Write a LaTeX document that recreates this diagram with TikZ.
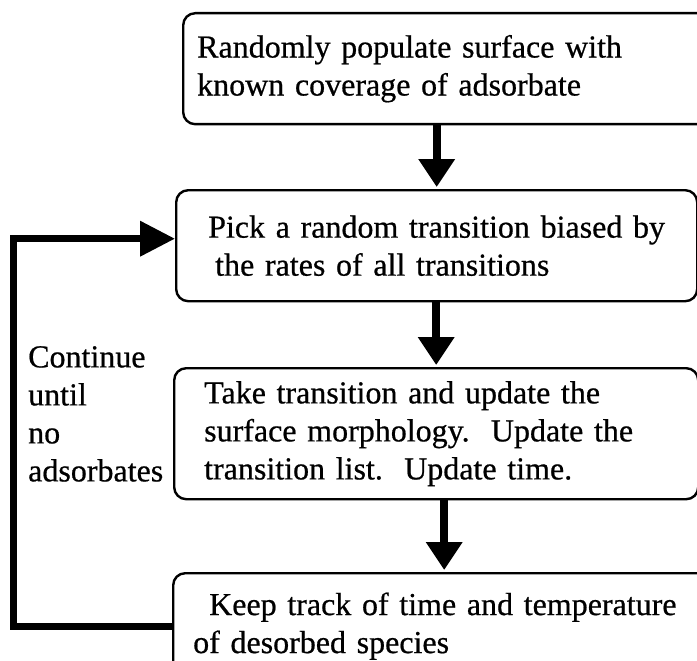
\documentclass[tikz,border=0pt]{standalone}
\usepackage{fontspec}
\setmainfont{Liberation Serif}[FakeBold=0.6]
\usetikzlibrary{arrows.meta}
\begin{document}
\begin{tikzpicture}[x=1pt, y=-1pt, every node/.style={font=\fontsize{32}{38}\selectfont}, stage/.style={draw, line width=2.4pt, rounded corners=12pt, align=left, anchor=north west, inner ysep=0pt, inner xsep=6pt}, flow/.style={line width=8pt, -{Triangle[width=35pt, length=28pt]}}, feedback/.style={line width=7pt, -{Triangle[width=34pt, length=35pt]}}]
	\useasboundingbox (0,0) rectangle (697,661);
	\clip (0,0) rectangle (697,661);
	% steps of the simulation
	\node[stage, minimum height=111pt, text width=520pt] (populate) at (182,12) {\hspace*{8pt}Randomly populate surface with\\\hspace*{8pt}known coverage of adsorbate};
	\node[stage, minimum height=111pt, text width=509pt] (pick) at (175,189) {\hspace*{26pt}Pick a random transition biased by\\\hspace*{33pt}the rates of all transitions};
	\node[stage, minimum height=131pt, text width=512pt] (take) at (173,367) {\hspace*{24pt}Take transition and update the\\\hspace*{24pt}surface morphology.\ \ Update the\\\hspace*{24pt}transition list.\ \ Update time.};
	\node[stage, minimum height=106pt, text width=530pt] (track) at (172,572) {\hspace*{30pt}Keep track of time and temperature\\\hspace*{14pt}of desorbed species};
	\node[anchor=north west, inner sep=0pt, align=left] (until) at (28,346) {Continue\\until\\no\\adsorbates};
	% connectors
	\coordinate (rail) at (13,400);
	\draw[flow, shorten >=2pt] (populate.south -| pick.north) -- (pick.north);
	\draw[flow, shorten >=2pt] (pick.south -| take.north) -- (take.north);
	\draw[flow, shorten >=2pt] (take.south -| track.north) -- (track.north);
	\draw[feedback] (track.west) -| (rail) |- ([yshift=7pt]pick.west);
\end{tikzpicture}
\end{document}
